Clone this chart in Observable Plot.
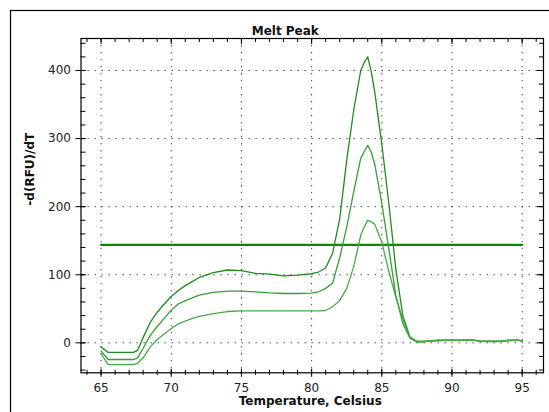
<!DOCTYPE html>
<html>
<head>
<meta charset="utf-8">
<script src="https://cdn.jsdelivr.net/npm/d3@7"></script>
<script src="https://cdn.jsdelivr.net/npm/@observablehq/plot@0.6"></script>
<style>
  html, body { margin: 0; padding: 0; background: #fff; }
  #chart { position: relative; width: 549px; height: 412px; overflow: hidden; }
</style>
</head>
<body>
<div id="chart"></div>
<script>
// ---- data ----
const chartTitle = "Melt Peak";
const xTitle = "Temperature, Celsius";
const yTitle = "-d(RFU)/dT";

const temperature = [65, 65.5, 66, 66.5, 67, 67.3, 67.6, 68, 68.5, 69, 69.5, 70, 70.5, 71, 71.5, 72, 73, 74, 75, 76, 77, 78, 79, 80, 80.5, 81, 81.5, 82, 82.5, 83, 83.5, 83.75, 84, 84.25, 84.5, 85, 85.5, 86, 86.5, 87, 87.5, 88, 89, 90, 91, 91.5, 92, 93, 93.5, 94, 94.7, 95];
const seriesHigh = [-6, -14, -14, -14, -14, -14, -11, 8, 30, 45, 57, 68, 77, 84, 90, 96, 103, 107, 106, 102, 101, 98.5, 99.5, 101.5, 104, 110, 132, 182, 268, 342, 400, 412, 420, 398, 368, 292, 205, 108, 40, 9, 2, 2, 4, 4, 4, 4.5, 2.5, 2.5, 2.5, 4, 4, 3];
const seriesMid = [-12, -24.5, -24.5, -24.5, -24.5, -24.5, -22, -8, 11, 24, 36, 48, 57, 62, 66, 70, 74, 76, 76, 75, 73.5, 72.5, 72.5, 73, 75, 80, 88, 125, 170, 222, 271, 281, 290, 280, 262, 205, 138, 70, 28, 7, 2, 2, 3.5, 4, 4, 4, 2.5, 2, 2.5, 3.5, 4, 3];
const seriesLow = [-16, -32, -32, -32, -32, -32, -30, -22, -6, 5, 13, 21, 28, 32, 36, 39, 43, 46, 47, 47, 47, 47, 47, 47, 47, 47.5, 53, 62, 80, 112, 158, 170, 180, 178, 174, 148, 105, 67, 34, 8, 1, 2, 3, 3.5, 3.5, 4, 2, 2, 2, 3, 3.5, 2.5];
const seriesNames = ["high", "mid", "low"];
const thresholdValue = 144;

const xTicks = [65, 70, 75, 80, 85, 90, 95];
const xMinorTicks = d3.range(64, 97, 1);
const yTicks = [0, 100, 200, 300, 400];
const yMinorTicks = d3.range(-40, 441, 20);

// ---- build table ----
const allSeries = [seriesHigh, seriesMid, seriesLow];
const rows = [];
allSeries.forEach((vals, i) => {
  vals.forEach((v, j) => rows.push({series: seriesNames[i], t: temperature[j], v}));
});
const thresholdRows = [
  {t: temperature[0], v: thresholdValue},
  {t: temperature[temperature.length - 1], v: thresholdValue}
];

// ---- layout ----
const W = 549, H = 412;
const mL = 80.5, mR = 6, mT = 38, mB = 39.7;
const FW = W - mL - mR, FH = H - mT - mB;

const colors = {high: "#1e8c1e", mid: "#33a033", low: "#45aa45"};

const plot = Plot.plot({
  width: W,
  height: H,
  marginLeft: mL,
  marginRight: mR,
  marginTop: mT,
  marginBottom: mB,
  style: {fontFamily: "DejaVu Sans, sans-serif", fontSize: "12px", color: "#222", background: "#fff", overflow: "visible"},
  x: {domain: [63.57, 96.52]},
  y: {domain: [-44, 447]},
  marks: [
    Plot.gridX(xTicks, {stroke: "#222", strokeOpacity: 0.85, strokeDasharray: "1.4,5.6"}),
    Plot.gridY(yTicks, {stroke: "#222", strokeOpacity: 0.85, strokeDasharray: "1.4,5.6"}),
    Plot.frame({stroke: "#000", strokeWidth: 1.2}),
    // bottom ticks (crossing)
    Plot.tickX(xMinorTicks, {x: d => d, insetTop: FH - 5, dy: 2.5, stroke: "#000"}),
    Plot.tickX(xTicks, {x: d => d, insetTop: FH - 8, dy: 4.5, stroke: "#000"}),
    // top ticks (inward)
    Plot.tickX(xMinorTicks, {x: d => d, insetBottom: FH - 4, stroke: "#000"}),
    Plot.tickX(xTicks, {x: d => d, insetBottom: FH - 6, stroke: "#000"}),
    // left ticks
    Plot.tickY(yMinorTicks, {y: d => d, insetRight: FW - 5, stroke: "#000"}),
    Plot.tickY(yTicks, {y: d => d, insetRight: FW - 10, dx: -5, stroke: "#000"}),
    // right ticks (inward)
    Plot.tickY(yMinorTicks, {y: d => d, insetLeft: FW - 4, stroke: "#000"}),
    Plot.tickY(yTicks, {y: d => d, insetLeft: FW - 6, stroke: "#000"}),
    // tick labels
    Plot.axisX(xTicks, {tickSize: 0, tickPadding: 11, label: null, fontSize: 12, fill: "#222"}),
    Plot.axisY(yTicks, {tickSize: 0, tickPadding: 10, label: null, fontSize: 12, fill: "#222"}),
    // threshold line
    Plot.line(thresholdRows, {x: "t", y: "v", stroke: "#0c870c", strokeWidth: 2.2}),
    // melt curves
    Plot.line(rows, {x: "t", y: "v", z: "series", stroke: d => colors[d.series], strokeWidth: 1.3}),
    // titles
    Plot.text([chartTitle], {frameAnchor: "top", dx: -27, dy: -12, fontWeight: "bold", fontSize: 12, fill: "#111", text: d => d}),
    Plot.text([xTitle], {frameAnchor: "bottom", dx: -2, dy: 32, fontWeight: "bold", fontSize: 12, fill: "#111", text: d => d}),
    Plot.text([yTitle], {frameAnchor: "left", dx: -51, rotate: -90, fontWeight: "bold", fontSize: 12, fill: "#111", text: d => d})
  ]
});

document.getElementById("chart").appendChild(plot);

// outer border of the chart panel
d3.select(plot).insert("rect", ":first-child")
  .attr("x", 10.5).attr("y", 10.5)
  .attr("width", 560).attr("height", 420)
  .attr("fill", "none").attr("stroke", "#000").attr("stroke-width", 1.2);
</script>
</body>
</html>
